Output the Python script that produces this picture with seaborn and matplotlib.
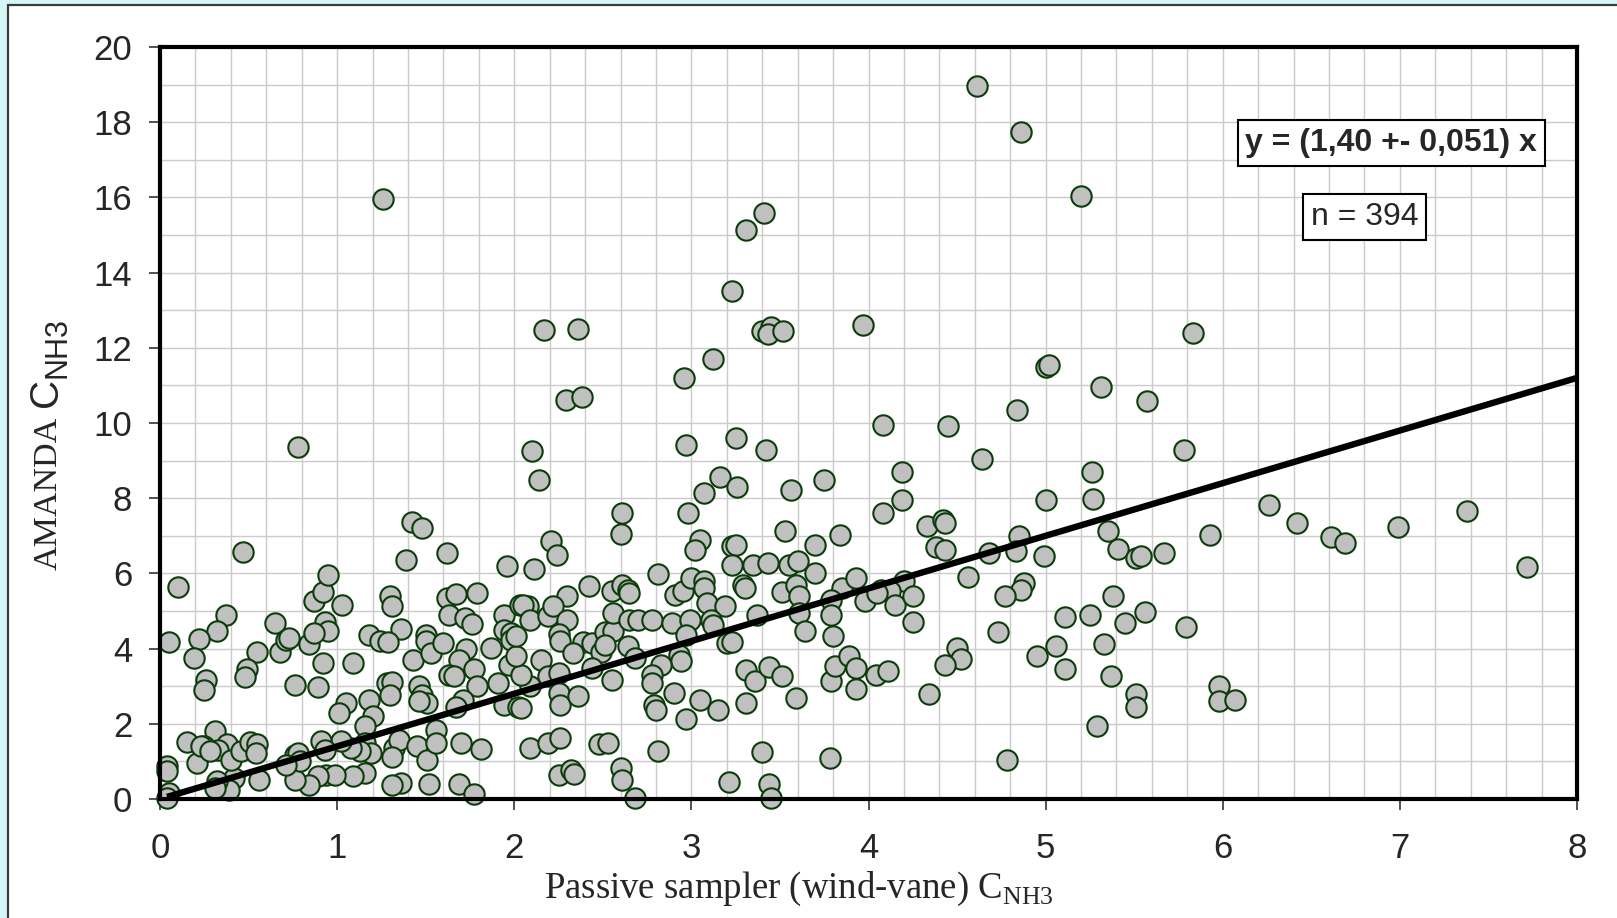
import matplotlib
matplotlib.use("Agg")
import matplotlib.pyplot as plt
import numpy as np
import pandas as pd
import seaborn as sns
from matplotlib.patches import Rectangle
from matplotlib.ticker import MultipleLocator

# passive sampler (x) vs AMANDA (y)
passive = [
    0.10, 0.05, 0.47, 0.37, 0.32, 0.22, 0.19, 0.26, 0.25, 0.65, 0.55, 0.49, 0.48, 0.68, 0.71, 0.73,
    0.84, 0.76, 0.89, 0.87, 0.92, 0.95, 0.93, 0.95, 0.87, 1.03, 0.92, 1.09, 1.18, 1.30, 1.31, 1.39,
    1.42, 1.48, 1.62, 1.96, 1.62, 1.67, 1.79, 1.63, 1.72, 1.76, 1.94, 2.03, 1.94, 1.98, 1.98, 1.87,
    1.73, 1.69, 1.77, 1.63, 1.66, 1.79, 1.91, 1.97, 1.94, 2.02, 1.71, 1.67, 1.36, 1.24, 1.29, 1.43,
    1.46, 1.48, 1.51, 1.46, 1.50, 1.50, 1.53, 1.60, 1.28, 1.31, 1.30, 1.18, 1.20, 1.16, 1.05, 1.01,
    1.56, 1.70, 1.81, 1.32, 1.35, 1.31, 1.45, 1.51, 1.56, 1.36, 1.31, 1.52, 1.69, 1.77, 1.16, 1.09,
    1.16, 1.19, 1.13, 1.08, 1.02, 0.91, 0.93, 0.94, 0.99, 0.89, 0.84, 0.76, 0.76, 0.78, 0.79, 0.71,
    0.56, 0.42, 0.39, 0.32, 0.31, 0.31, 0.38, 0.33, 0.25, 0.21, 0.15, 0.40, 0.46, 0.51, 0.55, 0.54,
    0.23, 0.28, 0.04, 0.04, 0.05, 0.04,
    2.14, 3.16, 3.07, 3.26, 3.56, 3.75, 4.08, 2.61, 2.60, 2.98, 2.21, 2.24, 3.05, 3.02, 3.23, 3.25,
    3.23, 3.53, 3.84, 3.70, 3.70, 3.35, 3.43, 3.55, 3.60, 2.11, 2.81, 2.42, 2.55, 2.61, 2.64, 2.65,
    2.91, 2.95, 3.00, 3.07, 3.07, 3.29, 3.30, 3.09, 3.19, 3.51, 3.59, 3.61, 3.85, 3.93, 3.79, 3.79,
    3.80, 3.98, 4.07, 3.37, 3.61, 3.64, 2.30, 2.08, 2.05, 2.09, 2.19, 2.22, 2.30, 2.25, 2.26, 2.39,
    2.44, 2.33, 2.51, 2.56, 2.56, 2.65, 2.70, 2.78, 2.89, 2.99, 2.97, 3.11, 3.12, 2.64, 2.68, 2.93,
    2.94, 2.83, 2.78, 2.78, 3.20, 3.23, 2.55, 2.90, 2.79, 2.80, 2.97, 3.05, 3.15, 3.31, 3.36, 3.44,
    3.51, 3.31, 3.59, 3.79, 3.81, 3.89, 3.93, 3.93, 4.04, 2.15, 2.19, 2.25, 2.09, 2.04, 2.01, 2.01,
    2.25, 2.26, 2.36, 2.04, 2.49, 2.51, 2.44, 2.09, 2.19, 2.26, 2.48, 2.53, 2.81, 2.25, 2.32, 2.34,
    2.60, 2.61, 2.68, 3.21, 3.40, 3.44, 3.45, 3.78,
    4.19, 5.26, 4.19, 5.00, 5.27, 4.33, 4.42, 4.43, 4.38, 4.43, 4.85, 4.83, 4.68, 4.99, 5.35, 5.41,
    5.51, 5.54, 5.67, 5.93, 4.20, 4.12, 4.05, 4.15, 4.25, 4.25, 4.56, 4.88, 4.86, 4.77, 4.73, 4.50,
    4.52, 4.43, 4.34, 4.11, 4.78, 4.95, 5.06, 5.11, 5.11, 5.25, 5.38, 5.33, 5.45, 5.56, 5.37, 5.29,
    5.51, 5.51, 5.79, 5.98, 5.98, 6.07,
    0.78, 1.26, 4.61, 4.86, 5.20, 3.31, 3.41, 3.23, 3.40, 3.45, 3.43, 3.52, 2.17, 2.36, 2.29, 2.38,
    2.96, 3.12, 3.97, 5.00, 5.02, 5.83, 5.31, 5.57, 4.84, 4.45, 4.08, 4.64, 2.10, 2.97, 3.25, 3.42,
    5.78,
    6.26, 6.42, 6.61, 6.69, 6.99, 7.38, 7.72,
]
amanda = [
    5.64, 4.17, 6.56, 4.89, 4.48, 4.26, 3.75, 3.16, 2.91, 4.68, 3.90, 3.47, 3.24, 3.91, 4.24, 4.28,
    4.13, 3.04, 2.98, 5.26, 5.50, 5.96, 4.72, 4.46, 4.41, 5.15, 3.62, 3.62, 4.35, 5.39, 5.12, 6.35,
    7.38, 7.21, 6.54, 6.21, 5.35, 5.46, 5.48, 4.90, 4.81, 4.65, 4.90, 5.17, 4.50, 4.41, 4.24, 4.02,
    3.99, 3.69, 3.47, 3.31, 3.26, 3.00, 3.09, 3.57, 2.51, 2.44, 2.64, 2.45, 4.52, 4.19, 4.18, 3.69,
    3.00, 2.77, 2.55, 2.60, 4.37, 4.19, 3.88, 4.15, 3.09, 3.10, 2.77, 2.64, 2.20, 1.93, 2.55, 2.29,
    1.84, 1.49, 1.33, 1.36, 1.58, 1.13, 1.40, 1.05, 1.49, 0.43, 0.38, 0.40, 0.41, 0.12, 0.69, 0.60,
    1.49, 1.22, 1.27, 1.36, 1.53, 1.53, 1.31, 0.65, 0.65, 0.60, 0.38, 0.51, 1.18, 1.22, 1.00, 0.91,
    0.51, 0.56, 0.25, 0.47, 0.29, 1.80, 1.45, 1.31, 1.40, 0.96, 1.51, 1.05, 1.27, 1.51, 1.45, 1.22,
    1.40, 1.27, 0.87, 0.74, 0.16, 0.03,
    8.49, 8.56, 8.14, 8.30, 8.21, 8.49, 7.61, 7.61, 7.05, 7.61, 6.85, 6.50, 6.90, 6.63, 6.72, 6.76,
    6.23, 7.14, 7.03, 6.76, 6.01, 6.23, 6.28, 6.23, 6.32, 6.12, 5.99, 5.67, 5.52, 5.70, 5.57, 5.48,
    5.43, 5.52, 5.88, 5.79, 5.61, 5.70, 5.61, 5.21, 5.12, 5.50, 5.70, 5.39, 5.61, 5.88, 5.30, 4.90,
    4.33, 5.26, 5.57, 4.90, 4.95, 4.46, 5.39, 5.12, 5.17, 4.77, 4.86, 5.12, 4.77, 4.39, 4.19, 4.18,
    4.15, 3.88, 4.44, 4.46, 4.95, 4.77, 4.77, 4.77, 4.68, 4.77, 4.37, 4.77, 4.64, 4.06, 3.75, 3.84,
    3.66, 3.57, 3.31, 3.09, 4.15, 4.18, 3.16, 2.82, 2.51, 2.38, 2.13, 2.64, 2.36, 3.44, 3.13, 3.51,
    3.26, 2.54, 2.68, 3.13, 3.53, 3.79, 3.48, 2.93, 3.31, 3.71, 3.26, 3.35, 3.00, 3.31, 3.79, 4.33,
    2.82, 2.51, 2.73, 2.42, 3.90, 4.10, 3.48, 1.36, 1.49, 1.62, 1.45, 1.49, 1.27, 0.65, 0.78, 0.67,
    0.82, 0.51, 0.03, 0.44, 1.24, 0.41, 0.03, 1.09,
    8.71, 8.69, 7.96, 7.96, 7.98, 7.25, 7.43, 7.34, 6.70, 6.63, 6.99, 6.59, 6.54, 6.45, 7.12, 6.65,
    6.41, 6.47, 6.54, 7.03, 5.79, 5.52, 5.48, 5.17, 5.41, 4.70, 5.90, 5.74, 5.57, 5.39, 4.44, 4.02,
    3.73, 3.57, 2.79, 3.40, 1.05, 3.79, 4.06, 4.84, 3.46, 4.90, 5.41, 4.13, 4.68, 4.98, 3.26, 1.95,
    2.80, 2.45, 4.57, 3.00, 2.60, 2.64,
    9.35, 15.97, 18.96, 17.75, 16.05, 15.12, 15.58, 13.50, 12.45, 12.55, 12.38, 12.45, 12.48, 12.50, 10.60, 10.70,
    11.19, 11.69, 12.60, 11.50, 11.55, 12.40, 10.95, 10.59, 10.34, 9.93, 9.96, 9.03, 9.25, 9.41, 9.60, 9.27,
    9.27,
    7.82, 7.35, 6.97, 6.80, 7.24, 7.65, 6.17,
]

SLOPE = 1.40
X_MAX = 8
Y_MAX = 20
fit_text = "y = (1,40 +- 0,051) x"
n_text = "n = 394"

sns.set_style("white")
plt.rcParams["font.family"] = ["Liberation Sans", "DejaVu Sans"]

df = pd.DataFrame({"passive": passive, "amanda": amanda})

W, H = 1617, 918
fig = plt.figure(figsize=(W / 100, H / 100), dpi=100, facecolor="#D4F7F9")
fig.patches.append(Rectangle((8 / W, -0.05), 1.1, 1 - 5 / H + 0.05, transform=fig.transFigure,
                             facecolor="white", edgecolor="#3C3C3C", linewidth=1.6, zorder=0))

ax = fig.add_axes([160 / W, 1 - 799 / H, 1417 / W, 752 / H])
ax.set_zorder(2)
ax.set_facecolor("white")

sns.scatterplot(data=df, x="passive", y="amanda", ax=ax, s=215, color="#C0C0C0",
                edgecolor="#0B3D0B", linewidth=1.5, clip_on=False, zorder=3, legend=False)

xs = np.array([min(passive), X_MAX])
ax.plot(xs, SLOPE * xs, color="black", linewidth=4.6, zorder=4, solid_capstyle="butt")

ax.set_xlim(0, X_MAX)
ax.set_ylim(0, Y_MAX)
ax.xaxis.set_major_locator(MultipleLocator(1))
ax.xaxis.set_minor_locator(MultipleLocator(0.2))
ax.yaxis.set_major_locator(MultipleLocator(2))
ax.yaxis.set_minor_locator(MultipleLocator(1))
ax.grid(True, which="both", color="#CBCBCB", linewidth=1.0, zorder=0)
ax.set_axisbelow(True)

for sp in ax.spines.values():
    sp.set_visible(True)
    sp.set_linewidth(3)
    sp.set_color("black")
    sp.set_zorder(5)

ax.tick_params(which="minor", length=0)
ax.tick_params(axis="y", which="major", direction="out", length=8, width=1.2, color="#333333",
               pad=12, labelsize=25, left=True)
ax.tick_params(axis="x", which="major", direction="out", length=8, width=1.2, color="#333333",
               pad=16, labelsize=25, bottom=True)

ax.set_xlabel("Passive sampler (wind-vane) C$_{\\mathregular{NH3}}$",
              family="Liberation Serif", fontsize=26.5, va="top")
ax.xaxis.set_label_coords(0.451, -0.094)
ax.set_ylabel("")

ax.text(0.869, 0.872, fit_text, transform=ax.transAxes, ha="center", va="center",
        fontsize=23, fontweight="bold", zorder=6,
        bbox=dict(boxstyle="square,pad=0.25", facecolor="white", edgecolor="black", linewidth=1.5))
ax.text(0.850, 0.774, n_text, transform=ax.transAxes, ha="center", va="center",
        fontsize=23, zorder=6,
        bbox=dict(boxstyle="square,pad=0.25", facecolor="white", edgecolor="black", linewidth=1.5))

# y label built from pieces: serif word, sans C, sans subscript
xb = 57 / W
fig.text(xb, 1 - 570 / H, "AMANDA", rotation=90, rotation_mode="anchor", ha="left",
         va="baseline", family="Liberation Serif", fontsize=24.5, zorder=3)
fig.text(xb, 1 - 407 / H, "C", rotation=90, rotation_mode="anchor", ha="left",
         va="baseline", fontsize=29, zorder=3)
fig.text(xb + 9 / W, 1 - 378 / H, "NH3", rotation=90, rotation_mode="anchor", ha="left",
         va="baseline", fontsize=22, zorder=3)

fig.savefig("out.png", dpi=100, facecolor=fig.get_facecolor())
